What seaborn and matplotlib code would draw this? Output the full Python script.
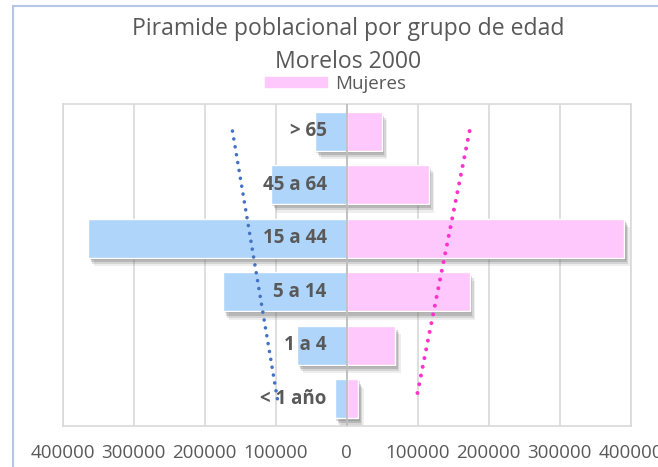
import matplotlib
matplotlib.use("Agg")
import matplotlib.pyplot as plt
import matplotlib.patheffects as pe
from matplotlib.lines import Line2D
from matplotlib.patches import Patch
from matplotlib.ticker import FuncFormatter, MultipleLocator
import numpy as np
import pandas as pd
import seaborn as sns

# ---------------------------------------------------------------- data
grupos = ["> 65", "45 a 64", "15 a 44", "5 a 14", "1 a 4", "< 1 año"]
hombres = [44600, 107000, 364000, 173800, 69600, 16500]
mujeres = [49300, 115500, 391000, 173200, 68000, 16300]

AZUL = "#B0D5FB"
ROSA = "#FFC8FC"
AZUL_TEND = "#4472C4"
ROSA_TEND = "#FF33CC"
GRIS_TXT = "#595959"
GRID = "#D9D9D9"

sns.set_theme(style="white")
plt.rcParams["font.family"] = ["Open Sans", "DejaVu Sans"]

df = pd.concat([
    pd.DataFrame({"grupo": grupos, "valor": -np.array(hombres), "sexo": "Hombres"}),
    pd.DataFrame({"grupo": grupos, "valor": np.array(mujeres), "sexo": "Mujeres"}),
], ignore_index=True)

fig = plt.figure(figsize=(6.58, 4.67), dpi=100)
ax = fig.add_axes([0.0953, 0.0884, 0.8632, 0.6883])

sns.barplot(data=df, x="valor", y="grupo", hue="sexo", order=grupos, dodge=False,
            palette={"Hombres": AZUL, "Mujeres": ROSA}, saturation=1, width=0.73,
            errorbar=None, orient="h", legend=False, ax=ax, zorder=2)

# soft drop shadow (a few stacked translucent offsets to fake the blur)
sombra = [pe.SimplePatchShadow(offset=(dx, dy), shadow_rgbFace="#606060", alpha=a)
          for dx, dy, a in [(1, -1.5, 0.25), (2, -3, 0.25), (3, -4.5, 0.18), (4, -6, 0.10)]]
for p in ax.patches:
    p.set_path_effects(sombra + [pe.Normal()])

# linear trendlines (Excel style) per series, over category position
pos = np.arange(len(grupos))
for vals, col, lw in [(-np.array(hombres), AZUL_TEND, 2.6), (np.array(mujeres), ROSA_TEND, 2.9)]:
    m, b = np.polyfit(pos, vals, 1)
    ax.plot(m * pos + b, pos, color=col, lw=lw, linestyle=(0, (0.01, 2.2)),
            dash_capstyle="round", zorder=4)

ax.axvline(0, color="#BFBFBF", lw=1.3, zorder=3)

# category labels next to the zero axis
for i, g in enumerate(grupos):
    ax.annotate(g, xy=(0, i), xytext=(-14.5, 0), textcoords="offset points",
                ha="right", va="center", fontsize=13.5, fontweight="bold",
                color=GRIS_TXT, zorder=5)

ax.set_xlim(-400000, 400000)
ax.set_ylim(5.5, -0.5)
ax.xaxis.set_major_locator(MultipleLocator(100000))
ax.xaxis.set_major_formatter(FuncFormatter(lambda v, _: f"{abs(v):.0f}"))
ax.tick_params(axis="x", length=0, pad=13, labelsize=13.5, labelcolor=GRIS_TXT)
ax.set_yticks([])
ax.set_xlabel("")
ax.set_ylabel("")
ax.grid(axis="x", color=GRID, lw=1.2, zorder=0)
ax.set_axisbelow(True)
for s in ax.spines.values():
    s.set_color(GRID)
    s.set_linewidth(1.2)

fig.text(0.529, 0.937, "Piramide poblacional por grupo de edad", ha="center", va="center",
         fontsize=16.6, color=GRIS_TXT)
fig.text(0.529, 0.868, "Morelos 2000", ha="center", va="center",
         fontsize=16.6, color=GRIS_TXT)

fig.legend(handles=[Patch(color=ROSA, label="Mujeres")], loc="center",
           bbox_to_anchor=(0.510, 0.820), frameon=False, fontsize=13.5,
           handlelength=3.3, handleheight=0.45, handletextpad=0.4, labelcolor=GRIS_TXT)

# outer chart border (top and left visible)
fig.add_artist(Line2D([0.0198, 1.0], [0.987, 0.987], color="#B4C7E7", lw=1.5))
fig.add_artist(Line2D([0.0198, 0.0198], [0.0, 0.987], color="#B4C7E7", lw=1.5))

fig.savefig("out.png", dpi=100)
